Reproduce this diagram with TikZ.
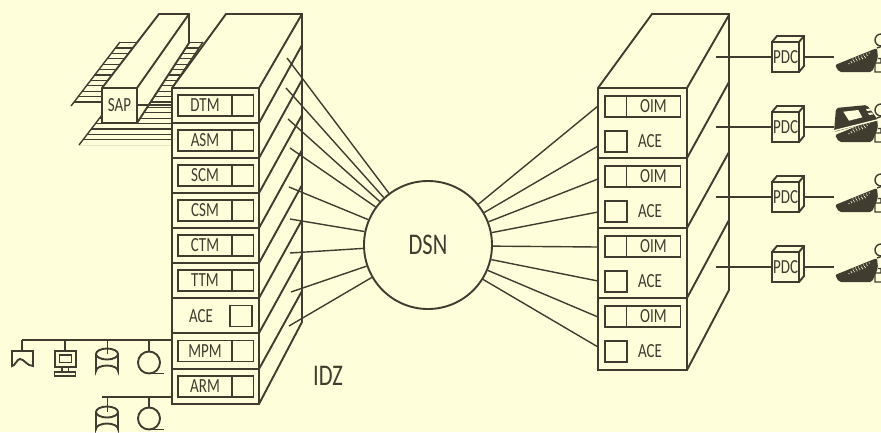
\documentclass[tikz,border=0pt]{standalone}
\usepackage{fontspec}
\usepackage{tikz}
\usetikzlibrary{positioning}
\newfontfamily\dinfont[FakeStretch=0.75]{Carlito}
\definecolor{paper}{HTML}{FEFEDA}
\definecolor{ink}{HTML}{403C2F}
\tikzset{
  heavy/.style={draw=ink,line width=1.9pt},
  thin/.style={draw=ink,line width=1.4pt},
  face/.style={heavy,fill=paper},
  labelbox/.style={draw=ink,line width=1.9pt,minimum width=54pt,minimum height=21pt,inner sep=0pt,outer sep=0pt,text=ink,font=\dinfont\fontsize{20}{20}\selectfont},
  slotbox/.style={draw=ink,line width=1.9pt,minimum width=21.5pt,minimum height=21pt,inner sep=0pt,outer sep=0pt},
  plain/.style={inner sep=0pt,text=ink,font=\dinfont\fontsize{20}{20}\selectfont},
  pdcbox/.style={draw=ink,line width=1.9pt,fill=paper,minimum width=27pt,minimum height=30pt,inner sep=0pt,outer sep=0pt,text=ink,font=\dinfont\fontsize{20}{20}\selectfont},
  keyboard/.pic={
    \fill[ink,rounded corners=2pt] (10,8) -- (52,-9) -- (53,1) -- (47,15) -- (14,15) -- cycle;
    \foreach \i in {0,...,6}
      \foreach \j in {0,1,2}
        \fill[paper] ({28+2.7*\i-2*\j},{2-1*\i+2.4*\j}) circle (0.6);
    \draw[ink,line width=1.4pt] (52,-9) -- (61,-12) (53,1.5) -- (56,1.5) -- (56,6) -- (50,6) -- (50,15) -- (61,15) (50,6) -- (61,6);
    \draw[ink,line width=1.4pt,fill=paper] (56,-17) circle (6);
  },
  monitor/.pic={
    \fill[ink,rounded corners=2pt] (11,-19) -- (42,-22) -- (53,-7) -- (9,5) -- cycle;
    \fill[paper] (18.3,-15.3) -- (33.3,-17) -- (37.3,-9.7) -- (24,-6.3) -- cycle;
    \fill[paper] (41,-18) -- (45,-18.5) -- (46,-16.5) -- (42,-16) -- cycle (43,-14) -- (47,-14.5) -- (48,-12.5) -- (44,-12) -- cycle;
    \draw[paper,line width=1.4pt] (8,4) -- (54,-7.5);
  },
  disk/.pic={
    \draw[heavy] (-11,0) -- (-11,17) arc[start angle=180,end angle=360,x radius=11,y radius=5.5] -- (11,0);
    \draw[heavy] (0,0) ellipse[x radius=11,y radius=5.5];
  },
  tape/.pic={
    \draw[heavy] (0,0) circle (11);
    \draw[heavy] (0,11) -- (15,11);
  },
}
\begin{document}
\begin{tikzpicture}[x=1pt,y=-1pt]
  \fill[paper] (0,0) rectangle (881,432);
  \useasboundingbox (0,0) rectangle (881,432);
  % plane under SAP
  \begin{scope}
    \clip (120,42) -- (203,42) -- (172,88) -- (172,145) -- (79,145) -- (102,115) -- (102,106) -- (71,106) -- cycle;
    \foreach \y in {0,...,19}
      \draw[ink,line width=1.2pt] (60,{42.5+5.4*\y}) -- (210,{42.5+5.4*\y});
  \end{scope}
  \draw[thin] (120,42) -- (71,106) (203,42) -- (172,88) (79,145) -- (102,115);
  % SAP unit
  \draw[face] (102,88) -- (159,14) -- (189,14) -- (189,43) -- (137,123) -- (102,123) -- cycle;
  \draw[heavy] (102,88) -- (137,88) -- (189,14) (137,88) -- (137,123);
  \node[plain] (sap) at (119.5,105.5) {SAP};
  \draw[thin] (137,105) -- (172,105);
  % left rack
  \draw[face] (172,88) -- (226,14) -- (302,14) -- (302,322) -- (259,404) -- (172,404) -- cycle;
  \draw[heavy] (172,88) -- (259,88) -- (302,14) (259,88) -- (259,404);
  \foreach \y in {123,158,193,228,263,298,333,369}
    \draw[heavy] (172,\y) -- (259,\y) -- (302,\y-78);
  \node[labelbox] (dtm) at (205,105.5) {DTM};
  \node[labelbox] (asm) at (205,140.5) {ASM};
  \node[labelbox] (scm) at (205,175.5) {SCM};
  \node[labelbox] (csm) at (205,210.5) {CSM};
  \node[labelbox] (ctm) at (205,245.5) {CTM};
  \node[labelbox] (ttm) at (205,280.5) {TTM};
  \node[plain] (ace_l) at (201,316) {ACE};
  \node[labelbox] (mpm) at (205,351) {MPM};
  \node[labelbox] (arm) at (205,386.5) {ARM};
  \foreach \m in {dtm,asm,scm,csm,ctm,ttm,mpm,arm}
    \node[slotbox,right=0pt of \m] {};
  \node[slotbox] (ace_s) at (241,316) {};
  % right rack
  \draw[face] (598,88) -- (652,14) -- (729,14) -- (729,290) -- (687,370) -- (598,370) -- cycle;
  \draw[heavy] (598,88) -- (687,88) -- (729,15) (687,88) -- (687,370);
  \draw[heavy] (598,158) -- (687,158) -- (729,82);
  \draw[heavy] (598,228) -- (687,228) -- (729,152);
  \draw[heavy] (598,298) -- (687,298) -- (729,220);
  \foreach \n/\y in {1/106.5,2/176.5,3/246.5,4/316.5} {
    \node[labelbox] (oim_\n) at (653.5,\y) {OIM};
    \node[slotbox,left=0pt of oim_\n] {};
    \node[slotbox] (slot_\n) at (616,\y+35) {};
    \node[plain] (ace_\n) at (650,\y+35) {ACE};
  }
  % switch
  \node[circle,draw=ink,line width=1.9pt,minimum size=128pt,inner sep=0pt,text=ink,font=\dinfont\fontsize{30}{30}\selectfont] (dsn) at (428,245) {DSN};
  \node[text=ink,font=\dinfont\fontsize{30}{30}\selectfont,inner sep=0pt] (idz) at (328,376) {IDZ};
  % left links
  \foreach \n/\px/\py/\a in {1/287/58/127,2/286/88/133,3/288/119/138,4/290/148/144,5/289/187/157,6/290/219/168,7/290/253/183,8/291/292/199,9/289/326/210} {
    \coordinate (l_\n) at (\px,\py);
    \draw[thin] (l_\n) -- (dsn.\a);
  }
  % right links
  \foreach \n/\py/\a in {1/106/39,2/146/30,3/179/21,4/212/11,5/247/-1,6/281/-13,7/317/-23,8/347/-32} {
    \coordinate (r_\n) at (598,\py);
    \draw[thin] (dsn.\a) -- (r_\n);
  }
  % workplaces
  \foreach \n/\y in {1/57,2/127,3/197,4/267} {
    \draw[face] (772,\y-15) -- (777,\y-21) -- (804,\y-21) -- (804,\y+9) -- (799,\y+15) -- (772,\y+15) -- cycle;
    \node[pdcbox] (pdc_\n) at (785.5,\y) {PDC};
    \draw[heavy] (799,\y-15) -- (804,\y-21);
    \coordinate (in_\n) at (716,\y);
    \coordinate (back_\n) at (804,\y);
    \coordinate (out_\n) at (834,\y);
    \draw[thin] (in_\n) -- (pdc_\n.west);
    \draw[thin] (back_\n) -- (out_\n);
    \pic at (825,\y) {keyboard};
  }
  \pic at (825,127) {monitor};
  % upper bus
  \coordinate (bus_a) at (22,340);
  \draw[thin] (bus_a) -- (172,340);
  \draw[thin] (22,340) -- (22,351);
  \draw[heavy] (12,351) -- (33,351) -- (33,366) .. controls (27,366) and (24,359) .. (20,359) .. controls (17,359) and (15,366) .. (12,366) -- cycle;
  \draw[thin] (65,340) -- (65,351);
  \draw[heavy] (55,351) rectangle (76,367);
  \draw[thin] (59.5,355) rectangle (71.5,362.5);
  \draw[thin] (62,367) -- (62,372) (68.5,367) -- (68.5,372);
  \draw[heavy] (54.5,372) rectangle (75.5,376);
  \pic at (107,354) {disk};
  \draw[thin] (107.5,340) -- (107.5,354);
  \pic at (149,362.5) {tape};
  \draw[thin] (149,340) -- (149,351.5);
  % lower bus
  \coordinate (bus_b) at (102,397);
  \draw[thin] (bus_b) -- (172,397);
  \pic at (107,412) {disk};
  \draw[thin] (107.5,397) -- (107.5,412);
  \pic at (149,418.5) {tape};
  \draw[thin] (149,397) -- (149,407.5);
\end{tikzpicture}
\end{document}
